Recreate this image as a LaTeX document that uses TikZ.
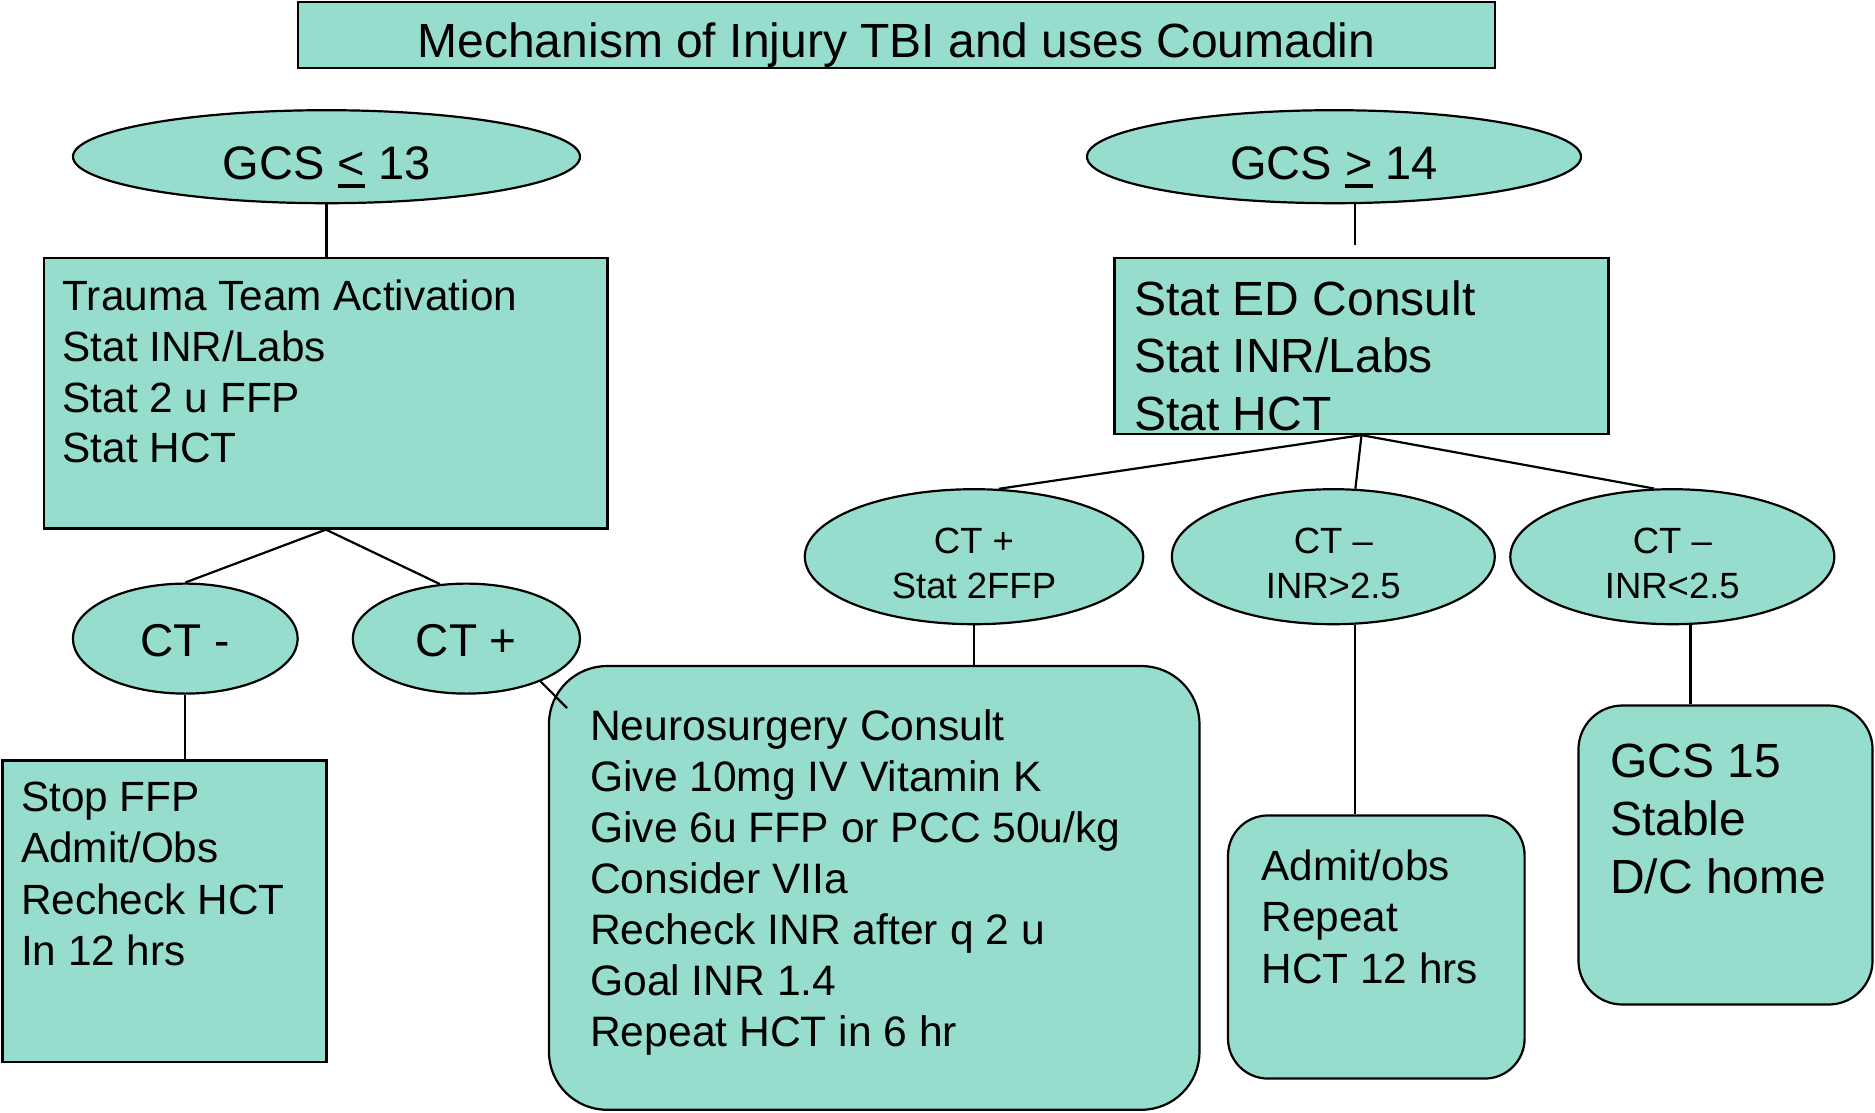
\documentclass[tikz,border=0pt]{standalone}
\usepackage{fontspec}
\setmainfont{Liberation Sans}
\usetikzlibrary{shapes.geometric}
\definecolor{mint}{RGB}{150,221,206}
% a character with a thick bar beneath it (used for "less/greater or equal")
\newcommand{\barbelow}[1]{\setbox0\hbox{#1}\rlap{\rule[-8pt]{\wd0}{4pt}}\box0\relax}
\begin{document}
\begin{tikzpicture}[x=1pt,y=-1pt,
  shaded/.style={draw=black, line width=2.2pt, fill=mint},
  sqbox/.style={shaded, rectangle, inner sep=0pt},
  rbox/.style={shaded, rectangle, rounded corners=#1, inner sep=0pt},
  oval/.style={shaded, ellipse, inner sep=0pt},
  lines/.style={inner sep=0pt, anchor=north west, align=left},
  link/.style={line width=2.2pt}]
\useasboundingbox (0,0) rectangle (1875,1112);

% title
\node[sqbox, minimum width=1197pt, minimum height=66pt, text height=55pt, text depth=11pt,
      font=\fontsize{48}{57.6}\selectfont] (title) at (896.5,35)
      {Mechanism of Injury TBI and uses Coumadin};

% GCS split
\node[oval, minimum width=507pt, minimum height=93pt, text height=46pt, text depth=0pt,
      font=\fontsize{47}{56}\selectfont] (gcsL) at (326.5,156.7) {GCS \barbelow{<} 13};
\node[oval, minimum width=494pt, minimum height=93pt, text height=46pt, text depth=0pt,
      font=\fontsize{47}{56}\selectfont] (gcsR) at (1334,156.7) {GCS \barbelow{>} 14};

% left branch
\node[sqbox, minimum width=563.3pt, minimum height=270.2pt] (tta) at (325.9,393.4) {};
\node[lines, font=\fontsize{42.3}{50.6}\selectfont] (ttatext) at (62.5,280)
      {Trauma Team Activation\\Stat INR/Labs\\Stat 2 u FFP\\Stat HCT};

\node[oval, minimum width=224.8pt, minimum height=110pt, text height=36pt, text depth=0pt,
      font=\fontsize{46}{55}\selectfont] (ctneg) at (185.3,638.6) {CT -};
\node[oval, minimum width=227.2pt, minimum height=110pt, text height=36pt, text depth=0pt,
      font=\fontsize{46}{55}\selectfont] (ctpos) at (466.4,638.6) {CT +};

\node[sqbox, minimum width=324.1pt, minimum height=301.4pt] (stopffp) at (164.5,911.2) {};
\node[lines, font=\fontsize{42.3}{51.4}\selectfont] (stopffptext) at (21,781.5)
      {Stop FFP\\Admit/Obs\\Recheck HCT\\In 12 hrs};

\node[rbox=58pt, minimum width=650.5pt, minimum height=443.7pt] (neuro) at (874.2,887.9) {};
\node[lines, font=\fontsize{42.6}{51}\selectfont] (neurotext) at (590,709)
      {Neurosurgery Consult\\Give 10mg IV Vitamin K\\Give 6u FFP or PCC 50u/kg\\Consider VIIa\\Recheck INR after q 2 u\\Goal INR 1.4\\Repeat HCT in 6 hr};

% right branch
\node[sqbox, minimum width=493.9pt, minimum height=175.7pt] (edc) at (1361.5,346.2) {};
\node[lines, font=\fontsize{48}{57.4}\selectfont] (edctext) at (1134,280.6)
      {Stat ED Consult\\Stat INR/Labs\\Stat HCT};

\node[oval, minimum width=338.4pt, minimum height=135pt, align=center,
      font=\fontsize{36.5}{45}\selectfont] (ctffp) at (974,556.7)
      {\rule{0pt}{39pt}CT +\\Stat 2FFP};
\node[oval, minimum width=322.9pt, minimum height=135pt, align=center,
      font=\fontsize{36.5}{45}\selectfont] (ctinr1) at (1333.3,556.7)
      {\rule{0pt}{39pt}CT \textendash\\INR>2.5};
\node[oval, minimum width=324pt, minimum height=135pt, align=center,
      font=\fontsize{36.5}{45}\selectfont] (ctinr2) at (1672.3,556.7)
      {\rule{0pt}{39pt}CT \textendash\\INR<2.5};

\node[rbox=40pt, minimum width=296.6pt, minimum height=263.1pt] (admit) at (1376.3,947) {};
\node[lines, font=\fontsize{42.3}{51.4}\selectfont] (admittext) at (1261.5,849.6)
      {Admit/obs\\Repeat\\HCT 12 hrs};

\node[rbox=44pt, minimum width=294.1pt, minimum height=299pt] (gcs15) at (1725.5,855) {};
\node[lines, font=\fontsize{48}{58}\selectfont] (gcs15text) at (1610,743.3)
      {GCS 15\\Stable\\D/C home};

% connectors
\coordinate (gcsRtail) at (1355,245);
\coordinate (nsEnd) at (567,708);
\draw[link] (gcsL.south) -- (gcsL.south |- tta.north);
\draw[link] (gcsR.south -| gcsRtail) -- (gcsRtail);
\draw[link] (tta.south) -- (ctneg.north);
\draw[link] (tta.south) -- (ctpos.116);
\draw[link] (ctneg.south) -- (ctneg.south |- stopffp.north);
\draw[link] (ctpos.-30) -- (nsEnd);
\draw[link] (edc.south) -- (ctffp.70);
\draw[link] (edc.south) -- (ctinr1.72);
\draw[link] (edc.south) -- (ctinr2.105);
\draw[link] (ctffp.south) -- (ctffp.south |- neuro.north);
\draw[link] (ctinr1.-72) -- (ctinr1.-72 |- admit.north);
\draw[link] (ctinr2.-75) -- (ctinr2.-75 |- gcs15.north);
\end{tikzpicture}
\end{document}
